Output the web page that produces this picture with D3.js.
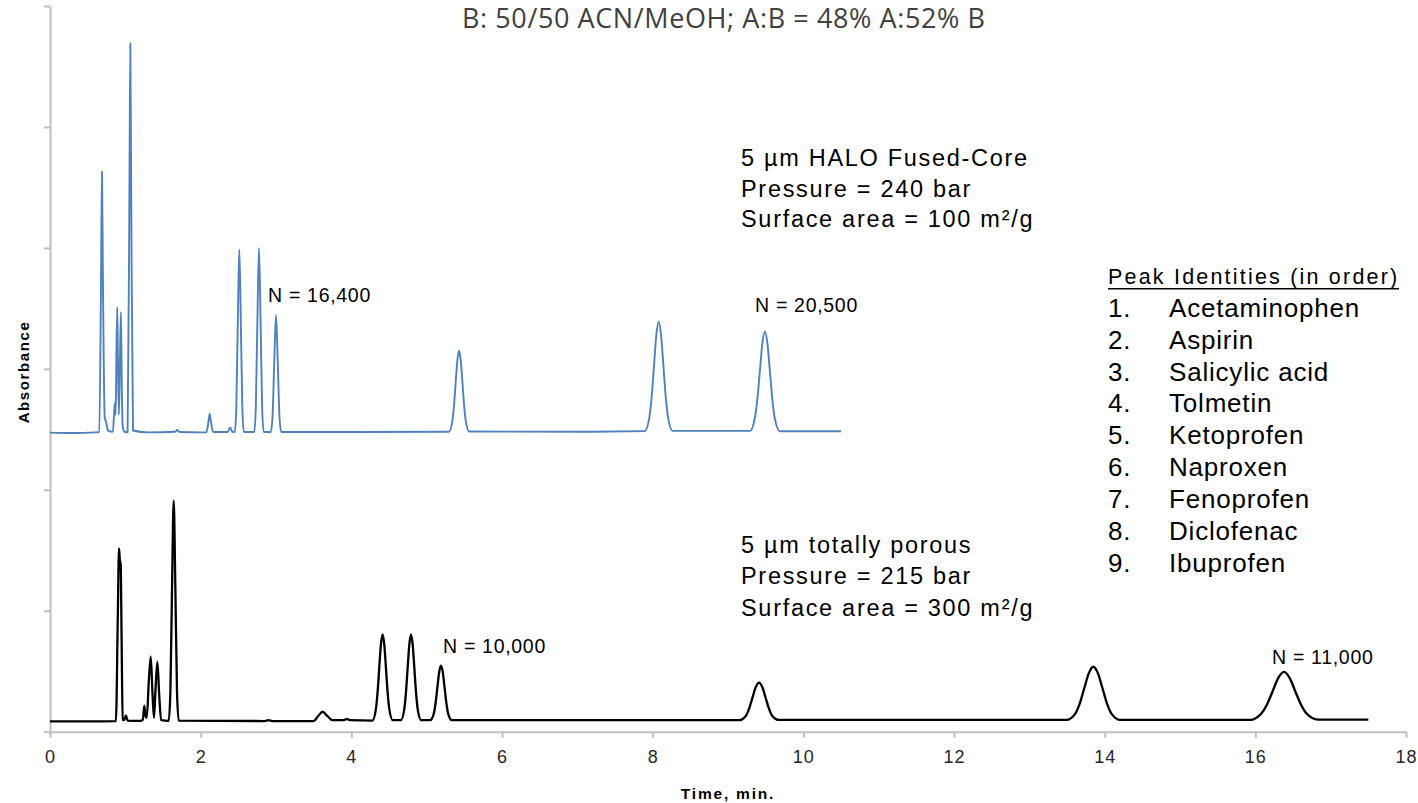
<!DOCTYPE html>
<html>
<head>
<meta charset="utf-8">
<script src="https://cdn.jsdelivr.net/npm/d3@7"></script>
<style>
  body { margin: 0; background: #fff; }
  svg text { font-family: "Liberation Sans", Arial, sans-serif; }
  svg text.title { font-family: "Open Sans", sans-serif; }
</style>
</head>
<body>
<div id="chart"></div>
<script>
// time axis ticks (min) and absorbance gridline ticks (unlabelled)
var xTicks = [0, 2, 4, 6, 8, 10, 12, 14, 16, 18];
var yTicks = [0, 1, 2, 3, 4, 5, 6];

// 5 um HALO Fused-Core trace (blue)
var haloTime = [0, 0.3, 0.6, 0.654, 0.678, 0.69, 0.702, 0.726, 0.745, 0.77, 0.835, 0.86, 0.872, 0.881,
  0.893, 0.903, 0.915, 0.928, 0.942, 0.953, 0.966, 0.99, 1.03, 1.054, 1.066, 1.078, 1.102, 1.3, 1.66,
  1.69, 1.72, 2.0, 2.075, 2.105, 2.12, 2.135, 2.165, 2.36, 2.39, 2.42, 2.453, 2.473, 2.493, 2.513,
  2.533, 2.553, 2.573, 2.711, 2.732, 2.753, 2.774, 2.795, 2.816, 2.837, 2.931, 2.954, 2.977, 3.0,
  3.023, 3.046, 3.069, 4.0, 5.295, 5.34, 5.3625, 5.385, 5.4075, 5.43, 5.4525, 5.475, 5.4975, 5.52,
  5.565, 7.0, 7.894, 7.956, 7.987, 8.018, 8.049, 8.08, 8.111, 8.142, 8.173, 8.204, 8.266, 9.292,
  9.358, 9.391, 9.424, 9.457, 9.49, 9.523, 9.556, 9.589, 9.622, 9.688, 10.5];
var haloAbs = [2.473, 2.47, 2.475, 2.478, 3.78, 4.63, 3.78, 2.6, 2.56, 2.49, 2.48, 2.72, 2.62, 3.1,
  3.51, 3.0, 2.62, 3.05, 3.47, 2.85, 2.52, 2.48, 2.475, 4.43, 5.69, 4.43, 2.49, 2.475, 2.48,
  2.495, 2.478, 2.475, 2.475, 2.57, 2.63, 2.57, 2.478, 2.478, 2.515, 2.48, 2.478, 2.68, 3.395, 3.99,
  3.395, 2.68, 2.478, 2.478, 2.68, 3.4, 4.0, 3.4, 2.68, 2.478, 2.478, 2.606, 3.064, 3.445,
  3.064, 2.606, 2.478, 2.478, 2.48, 2.566, 2.694, 2.885, 3.07, 3.15, 3.07, 2.885, 2.694, 2.566,
  2.482, 2.48, 2.485, 2.599, 2.772, 3.03, 3.282, 3.39, 3.282, 3.03, 2.772, 2.599, 2.487, 2.487,
  2.6, 2.756, 2.99, 3.215, 3.31, 3.211, 2.982, 2.746, 2.588, 2.484, 2.484];

// 5 um totally porous trace (black)
var porousTime = [0, 0.5, 0.875, 0.9, 0.916, 0.927, 0.938, 0.95, 0.965, 0.985, 1.008, 1.03, 1.2, 1.232,
  1.252, 1.268, 1.285, 1.31, 1.337, 1.362, 1.38, 1.4, 1.425, 1.45, 1.475, 1.576, 1.598, 1.62, 1.642,
  1.664, 1.686, 1.708, 2.85, 2.9, 2.95, 3.5, 3.56, 3.62, 3.68, 3.75, 3.9, 3.94, 3.98, 4.28, 4.325,
  4.3475, 4.37, 4.3925, 4.415, 4.4375, 4.46, 4.4825, 4.505, 4.55, 4.657, 4.702, 4.7245, 4.747,
  4.7695, 4.792, 4.8145, 4.837, 4.8595, 4.882, 4.927, 5.046, 5.094, 5.118, 5.142, 5.166, 5.19,
  5.214, 5.238, 5.262, 5.286, 5.334, 9.148, 9.236, 9.28, 9.324, 9.368, 9.412, 9.456, 9.5, 9.544,
  9.588, 9.676, 13.49, 13.61, 13.67, 13.73, 13.79, 13.85, 13.91, 13.97, 14.03, 14.09, 14.21, 15.93,
  16.08, 16.155, 16.23, 16.305, 16.38, 16.455, 16.53, 16.605, 16.68, 16.83, 17.5];
var porousAbs = [0.085, 0.085, 0.088, 0.95, 1.516, 1.42, 1.387, 0.8, 0.1, 0.095, 0.135, 0.092, 0.09, 0.1,
  0.215, 0.13, 0.115, 0.4, 0.62, 0.3, 0.115, 0.34, 0.579, 0.3, 0.095, 0.09, 0.33, 1.19, 1.91,
  1.19, 0.33, 0.092, 0.088, 0.095, 0.088, 0.088, 0.13, 0.165, 0.13, 0.095, 0.095, 0.105, 0.095, 0.092, 0.182,
  0.319, 0.522, 0.72, 0.805, 0.72, 0.522, 0.319, 0.182, 0.095, 0.095, 0.182, 0.319, 0.522,
  0.72, 0.805, 0.72, 0.522, 0.319, 0.182, 0.095, 0.095, 0.147, 0.235, 0.365, 0.492, 0.546,
  0.492, 0.365, 0.235, 0.147, 0.095, 0.095, 0.13, 0.19, 0.28, 0.367, 0.405, 0.367, 0.28, 0.19,
  0.13, 0.097, 0.097, 0.15, 0.235, 0.361, 0.484, 0.537, 0.484, 0.361, 0.235, 0.15, 0.097, 0.097,
  0.15, 0.225, 0.335, 0.445, 0.495, 0.445, 0.335, 0.225, 0.15, 0.1, 0.1];

var peakNames = ["Acetaminophen", "Aspirin", "Salicylic acid", "Tolmetin", "Ketoprofen",
  "Naproxen", "Fenoprofen", "Diclofenac", "Ibuprofen"];
var haloLines = ["5 µm HALO Fused-Core", "Pressure = 240 bar", "Surface area = 100 m²/g"];
var porousLines = ["5 µm totally porous", "Pressure = 215 bar", "Surface area = 300 m²/g"];
var plateLabels = ["N = 16,400", "N = 20,500", "N = 10,000", "N = 11,000"];

var width = 1418, height = 803;
var margin = { top: 6, right: 12, bottom: 71.3, left: 50 };

var svg = d3
  .select("#chart")
  .append("svg")
  .attr("width", width)
  .attr("height", height);

var x = d3.scaleLinear().domain([0, 18]).range([margin.left, width - margin.right]);
var y = d3.scaleLinear().domain([0, 6]).range([height - margin.bottom, margin.top]);

// axes
var xAxis = svg
  .append("g")
  .attr("transform", "translate(0," + y(0) + ")")
  .call(d3.axisBottom(x).tickValues(xTicks).tickSize(6).tickSizeOuter(0).tickPadding(13));
var yAxis = svg
  .append("g")
  .attr("transform", "translate(" + x(0) + ",0)")
  .call(d3.axisLeft(y).tickValues(yTicks).tickSize(6).tickSizeOuter(0).tickFormat(""));

[xAxis, yAxis].forEach(function (g) {
  g.select(".domain").attr("stroke", "#bfbfbf").attr("stroke-width", 2);
  g.selectAll(".tick line").attr("stroke", "#bfbfbf").attr("stroke-width", 2);
});
xAxis
  .selectAll(".tick text")
  .attr("font-size", 18)
  .attr("letter-spacing", 1)
  .attr("fill", "#262626");

// traces
function toPoints(ts, vs) {
  return ts.map(function (t, i) {
    return [t, vs[i]];
  });
}
var line = d3
  .line()
  .x(function (d) { return x(d[0]); })
  .y(function (d) { return y(d[1]); })
  .curve(d3.curveMonotoneX);

svg
  .append("path")
  .attr("d", line(toPoints(haloTime, haloAbs)))
  .attr("fill", "none")
  .attr("stroke", "#4f81bd")
  .attr("stroke-width", 1.9)
  .attr("stroke-linejoin", "round");

svg
  .append("path")
  .attr("d", line(toPoints(porousTime, porousAbs)))
  .attr("fill", "none")
  .attr("stroke", "#000")
  .attr("stroke-width", 2.3)
  .attr("stroke-linejoin", "round");

// text helper
function label(px, py, str, size, spacing) {
  return svg
    .append("text")
    .attr("x", px)
    .attr("y", py)
    .attr("font-size", size)
    .attr("letter-spacing", spacing)
    .attr("fill", "#000")
    .text(str);
}

// title
svg
  .append("text")
  .attr("class", "title")
  .attr("x", 462)
  .attr("y", 28)
  .attr("font-size", 27)
  .attr("textLength", 523)
  .attr("fill", "#404040")
  .text("B: 50/50 ACN/MeOH; A:B = 48% A:52% B");

// axis titles
svg
  .append("text")
  .attr("x", 728)
  .attr("y", 799)
  .attr("text-anchor", "middle")
  .attr("font-size", 15.5)
  .attr("font-weight", "bold")
  .attr("letter-spacing", 1.8)
  .text("Time, min.");
svg
  .append("text")
  .attr("transform", "translate(29,372) rotate(-90)")
  .attr("text-anchor", "middle")
  .attr("font-size", 15)
  .attr("font-weight", "bold")
  .attr("letter-spacing", 1.6)
  .text("Absorbance");

// column descriptions
haloLines.forEach(function (s, i) {
  label(741, 165.7 + 30.8 * i, s, 23.5, 1.7);
});
porousLines.forEach(function (s, i) {
  label(741, 552.5 + 31.7 * i, s, 23.5, 1.7);
});

// plate counts
var plateX = [268, 755, 443, 1272];
var plateY = [302, 312, 652.7, 664];
plateLabels.forEach(function (s, i) {
  label(plateX[i], plateY[i], s, 19.5, 0.7);
});

// peak identities
label(1108, 284.3, "Peak Identities (in order)", 21.5, 2.2);
svg
  .append("line")
  .attr("x1", 1108)
  .attr("x2", 1399)
  .attr("y1", 288.8)
  .attr("y2", 288.8)
  .attr("stroke", "#000")
  .attr("stroke-width", 1.5);
peakNames.forEach(function (s, i) {
  label(1108, 316.7 + 31.9 * i, (i + 1) + ".", 26, 0.8);
  label(1169, 316.7 + 31.9 * i, s, 26, 0.8);
});
</script>
</body>
</html>
